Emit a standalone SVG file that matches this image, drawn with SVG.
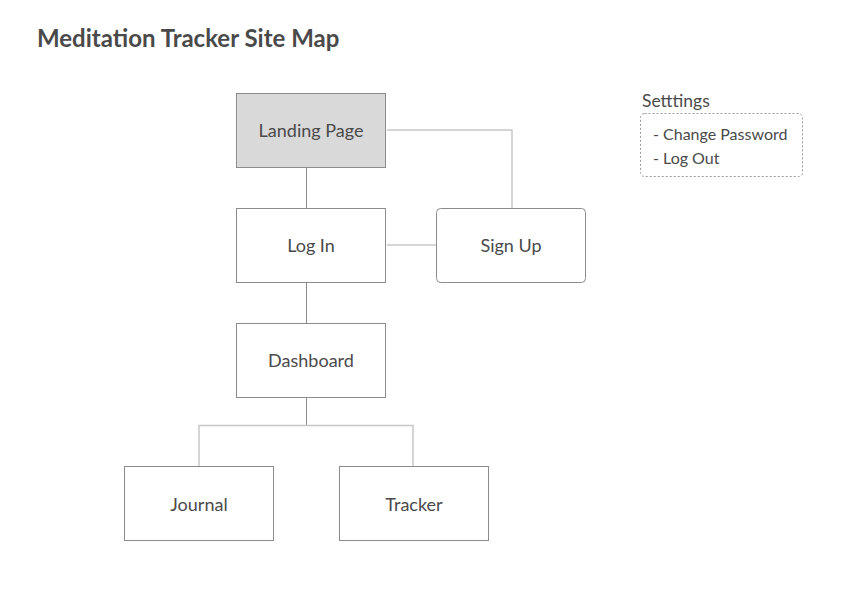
<svg xmlns="http://www.w3.org/2000/svg" width="846" height="589" viewBox="0 0 846 589">
  <style>
    text { font-family: Lato, "Open Sans", "Liberation Sans", sans-serif; fill: #4a4a4a; }
    .title { font-size: 24px; font-weight: bold; }
    .label { font-size: 18px; text-anchor: middle; }
    .box { fill: #ffffff; stroke: #8c8c8c; stroke-width: 1; }
    .hero { fill: #d9d9d9; }
    .dark { stroke: #8c8c8c; stroke-width: 1; fill: none; }
    .light { stroke: #c8c8c8; stroke-width: 1.5; fill: none; }
    .note { fill: none; stroke: #9a9a9a; stroke-width: 1; stroke-dasharray: 2 2; }
    .small { font-size: 16px; }
  </style>
  <rect width="846" height="589" fill="#ffffff"/>

  <text class="title" x="37" y="47">Meditation Tracker Site Map</text>

  <g id="connectors">
    <line class="dark" x1="306.5" y1="167" x2="306.5" y2="208"/>
    <polyline class="light" points="387,130 512,130 512,208"/>
    <line class="light" x1="387" y1="245" x2="436" y2="245"/>
    <line class="dark" x1="306.5" y1="282" x2="306.5" y2="323"/>
    <line class="dark" x1="306.5" y1="397" x2="306.5" y2="425"/>
    <polyline class="light" points="199,466 199,425.5 413,425.5 413,467"/>
  </g>

  <g id="landing">
    <rect class="box hero" x="236.5" y="93.5" width="149" height="74"/>
    <text class="label" x="311" y="137">Landing Page</text>
  </g>
  <g id="login">
    <rect class="box" x="236.5" y="208.5" width="149" height="74"/>
    <text class="label" x="311" y="252">Log In</text>
  </g>
  <g id="signup">
    <rect class="box" x="436.5" y="208.5" width="149" height="74" rx="4"/>
    <text class="label" x="511" y="252">Sign Up</text>
  </g>
  <g id="dashboard">
    <rect class="box" x="236.5" y="323.5" width="149" height="74"/>
    <text class="label" x="311" y="367">Dashboard</text>
  </g>
  <g id="journal">
    <rect class="box" x="124.5" y="466.5" width="149" height="74"/>
    <text class="label" x="199" y="511">Journal</text>
  </g>
  <g id="tracker">
    <rect class="box" x="339.5" y="466.5" width="149" height="74"/>
    <text class="label" x="414" y="511">Tracker</text>
  </g>

  <g id="settings">
    <text x="642" y="107" font-size="17.5">Setttings</text>
    <rect class="note" x="640.5" y="113.5" width="162" height="63" rx="4"/>
    <text class="small" x="653" y="140">- Change Password</text>
    <text class="small" x="653" y="164">- Log Out</text>
  </g>
</svg>
